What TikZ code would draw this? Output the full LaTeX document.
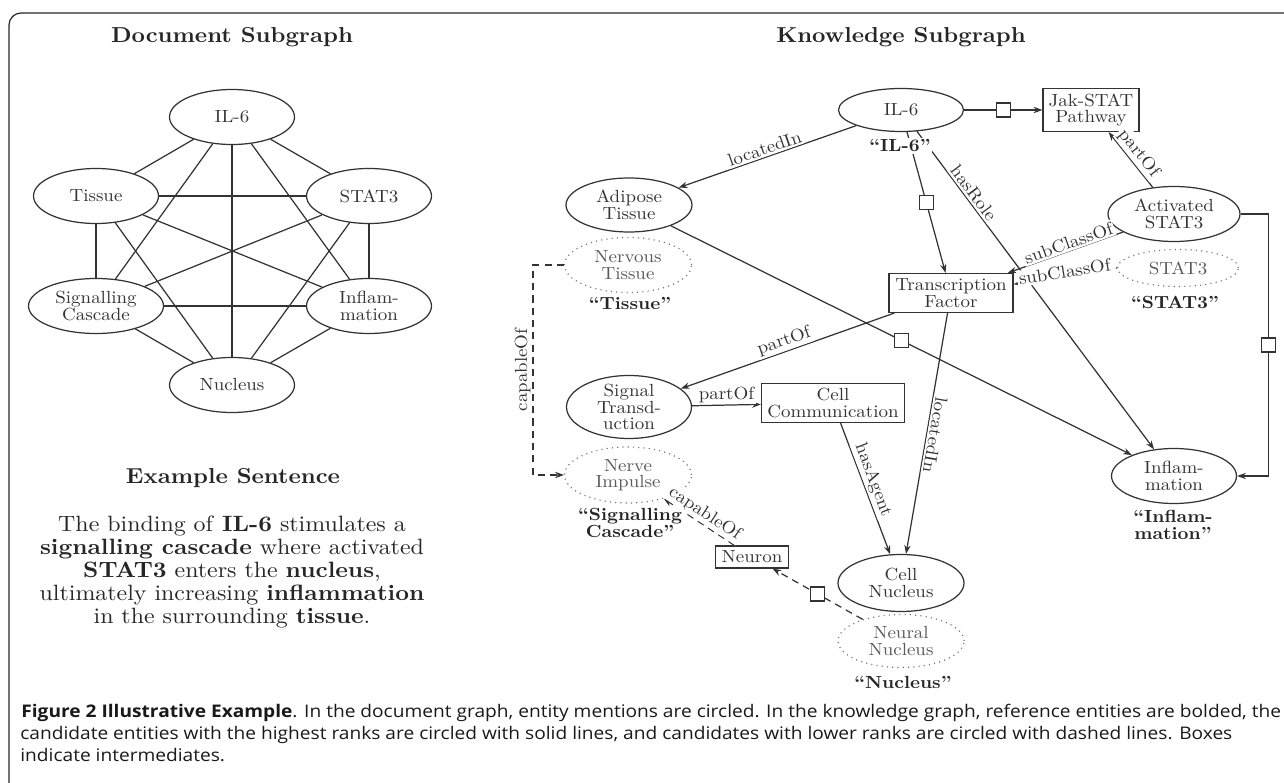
\documentclass[tikz,border=0pt]{standalone}
\usepackage{fontspec}
\setmainfont{lmroman10-regular}[Extension=.otf, BoldFont=lmroman10-bold, ItalicFont=lmroman10-italic, BoldItalicFont=lmroman10-bolditalic, FakeStretch=1.08, Ligatures=TeX]
\newfontfamily\capfont{Open Sans}[FakeStretch=1.1]
\usetikzlibrary{shapes.geometric,arrows.meta}
\newcommand{\nfont}{\fontsize{10}{9.4}\selectfont}
\tikzset{
  base/.style={font=\nfont, text=black!80},
  docnode/.style={ellipse, draw=black!80, line width=0.7pt, minimum width=2.5cm, minimum height=1.1cm, inner xsep=0pt, inner ysep=-8pt, align=center, base},
  kent/.style={ellipse, draw=black!80, line width=0.7pt, inner xsep=0pt, inner ysep=-8pt, align=center, base},
  kcand/.style={kent, draw=black!55, dash pattern=on 0.6pt off 2.4pt, text=black!65},
  kbox/.style={rectangle, draw=black!80, line width=0.7pt, inner sep=0pt, align=center, base},
  midsq/.style={rectangle, draw=black!80, solid, fill=white, minimum size=0.28cm, inner sep=0pt, line width=0.7pt},
  reflab/.style={font=\nfont\bfseries, text=black!85, fill=white, inner sep=1pt, align=center},
  elab/.style={font=\nfont, text=black!80, fill=white, inner sep=1pt},
  conn/.style={draw=black!80, line width=0.7pt},
  arr/.style={conn, -{Stealth[length=5pt,width=3.6pt]}},
  dsh/.style={dash pattern=on 4pt off 3pt},
  dtd/.style={dash pattern=on 0.6pt off 2pt},
  heading/.style={font=\fontsize{12.3}{14}\selectfont\bfseries, text=black!85},
  capline/.style={anchor=base west, inner sep=0pt, font=\capfont\fontsize{9.9}{11}\selectfont, text=black!90},
}
\begin{document}
\begin{tikzpicture}[x=0.02cm, y=-0.02cm]
\useasboundingbox (0,0) rectangle (1284,783);
\clip (0,0) rectangle (1284,783);
\draw[line width=0.7pt, draw=black!85, rounded corners=0.24cm] (9,13) rectangle (1320,795);

% ---------- Document subgraph ----------
\node[heading] (dochead) at (232,37) {Document Subgraph};
\node[docnode] (dIL) at (232,117) {IL-6};
\node[docnode] (dTi) at (96,196) {Tissue};
\node[docnode] (dST) at (369,196) {STAT3};
\node[docnode, minimum width=2.7cm] (dSC) at (96,306) {Signalling\\Cascade};
\node[docnode] (dIn) at (369,306) {Inflam-\\mation};
\node[docnode] (dNu) at (232,385) {Nucleus};
\foreach \a/\b in {dIL/dTi,dIL/dST,dIL/dSC,dIL/dIn,dIL/dNu,dTi/dST,dTi/dSC,dTi/dIn,dTi/dNu,dST/dSC,dST/dIn,dST/dNu,dSC/dIn,dSC/dNu,dIn/dNu}
  \draw[conn] (\a) -- (\b);

\node[heading] (exhead) at (233,478) {Example Sentence};
\node[font=\fontsize{12.6}{13.1}\selectfont, text=black!85, align=center] (sent) at (232,572) {The binding of \textbf{IL-6} stimulates a\\
\textbf{signalling cascade} where activated\\
\textbf{STAT3} enters the \textbf{nucleus},\\
ultimately increasing \textbf{inflammation}\\
in the surrounding \textbf{tissue}.};

% ---------- Knowledge subgraph ----------
\node[heading] (kghead) at (901,37) {Knowledge Subgraph};
\node[kent, minimum width=2.5cm, minimum height=0.86cm] (il6) at (901,110) {IL-6};
\node[kbox, minimum width=1.92cm, minimum height=0.86cm] (jak) at (1091,110) {Jak-STAT\\Pathway};
\node[kent, minimum width=2.64cm, minimum height=1.1cm] (act) at (1174,214) {Activated\\STAT3};
\node[kcand, minimum width=2.42cm, minimum height=0.74cm] (stat3c) at (1178,268) {STAT3};
\node[kbox, minimum width=2.48cm, minimum height=0.78cm] (tf) at (951,293) {Transcription\\Factor};
\node[kent, minimum width=2.52cm, minimum height=1.08cm] (adipose) at (629,205) {Adipose\\Tissue};
\node[kcand, minimum width=2.54cm, minimum height=1.1cm] (nervous) at (628,265) {Nervous\\Tissue};
\node[kent, minimum width=2.5cm, minimum height=1.26cm] (signal) at (629,407) {Signal\\Transd-\\uction};
\node[kbox, minimum width=2.86cm, minimum height=0.78cm] (cellcomm) at (833,403) {Cell\\Communication};
\node[kcand, minimum width=2.54cm, minimum height=1.12cm] (nerve) at (628,475) {Nerve\\Impulse};
\node[kent, minimum width=2.5cm, minimum height=1.1cm] (infl) at (1174,476) {Inflam-\\mation};
\node[kbox, minimum width=1.46cm, minimum height=0.44cm] (neuron) at (752,557) {Neuron};
\node[kent, minimum width=2.52cm, minimum height=1.14cm] (nucleus) at (901,583) {Cell\\Nucleus};
\node[kcand, minimum width=2.52cm, minimum height=1.06cm] (neural) at (901,641) {Neural\\Nucleus};

% edges
\draw[arr] (il6) -- node[elab, above, sloped, pos=0.21] {hasRole} (infl);
\draw[arr] (il6) -- node[midsq] {} (jak);
\draw[arr] (il6) -- node[elab, above, sloped] {locatedIn} (adipose);
\draw[arr] (il6) -- node[midsq] {} (tf);
\draw[arr] (act) -- node[elab, above, sloped] {partOf} (jak);
\draw[arr] (act) -- node[elab, above=-0.5pt, sloped, pos=0.45] {subClassOf} (tf);
\draw[arr, dtd] (stat3c.west) -- node[elab, sloped, above=-2.5pt] {subClassOf} (tf.8);
\draw[arr] (act.east) -- ++(28,0) |- node[midsq, pos=0.25] {} (infl.east);
\draw[arr] (adipose) -- node[midsq] {} (infl);
\draw[arr] (tf) -- node[elab, above, sloped] {partOf} (signal);
\draw[arr] (signal) -- node[elab, above] {partOf} (cellcomm);
\draw[arr] (cellcomm) -- node[elab, above, sloped, pos=0.46] {hasAgent} (nucleus);
\draw[arr] (tf) -- node[elab, above, sloped, allow upside down] {locatedIn} (nucleus);
\draw[arr, dsh] (neural) -- node[midsq] {} (neuron);
\draw[arr, dsh] (neuron) -- node[elab, above, sloped] {capableOf} (nerve);
\draw[arr, dsh] (nervous.west) -- ++(-31,0) |- node[elab, pos=0.25, rotate=90, above] {capableOf} (nerve.west);

% reference labels
\node[reflab] (rIL) at (900,146) {“IL-6”};
\node[reflab] (rTi) at (630,303) {“Tissue”};
\node[reflab] (rST) at (1175,302) {“STAT3”};
\node[reflab] (rSC) at (630,523) {“Signalling\\Cascade”};
\node[reflab] (rIn) at (1173,525) {“Inflam-\\mation”};
\node[reflab] (rNu) at (903,682) {“Nucleus”};

% caption
\node[capline] (cap1) at (21,717) {\textbf{Figure 2 Illustrative Example}. In the document graph, entity mentions are circled. In the knowledge graph, reference entities are bolded, the};
\node[capline] (cap2) at (20,739) {candidate entities with the highest ranks are circled with solid lines, and candidates with lower ranks are circled with dashed lines. Boxes};
\node[capline] (cap3) at (20,761) {indicate intermediates.};
\end{tikzpicture}
\end{document}
